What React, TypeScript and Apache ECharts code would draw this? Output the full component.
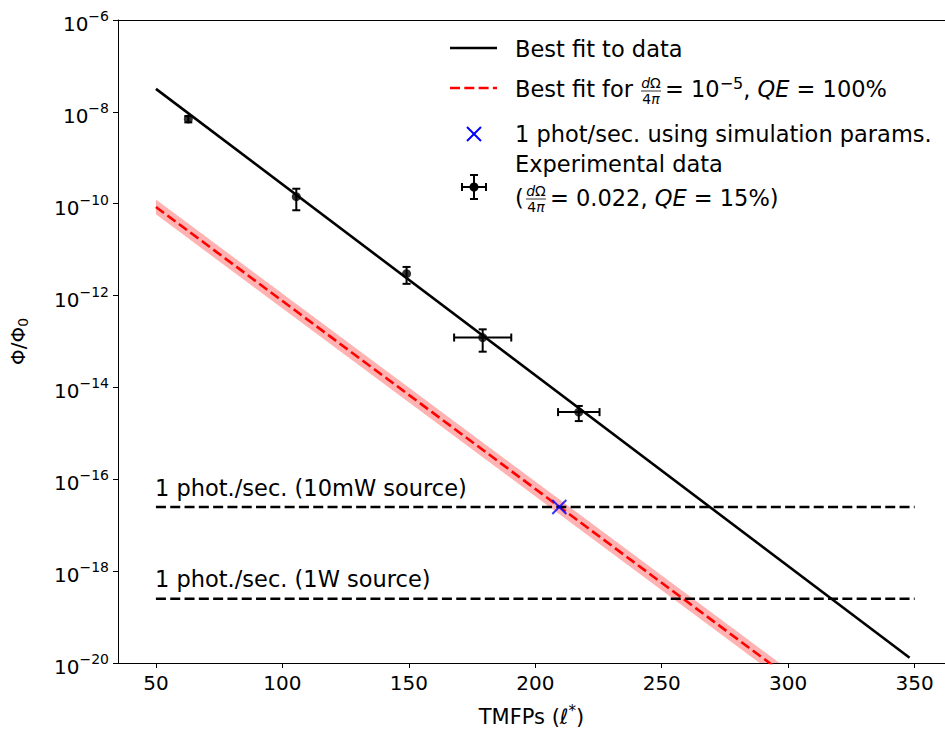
import React, { useEffect, useRef } from "react";
import * as echarts from "echarts";

// ---- data ----
const xTicks = [50, 100, 150, 200, 250, 300, 350];
const expX = [62.8, 105.5, 149.1, 179.2, 217.2];
const expY = [7.0e-9, 1.42e-10, 3.0e-12, 1.22e-13, 2.9e-15];
const expXErr = [0, 0, 0, 11.3, 8.2];
const expYErr = [1.1e-9, 7e-11, 1.2e-12, 6.2e-14, 1.05e-15];

const fitX = [50, 348];
const fitY = [3.16e-8, 1.3e-20];

const simX = [50, 300];
const simY = [8.5e-11, 5.0e-21];
const simBandFactor = 1.45;

const crossX = [209.5];
const crossY = [2.5e-17];

const level10mW = 2.5e-17;
const level1W = 2.5e-19;
const levelX = [50, 350];

const FONT = '"DejaVu Sans", sans-serif';
const L = (v: number) => Math.log10(v);
const FS = 22.5;

function txt(x: number, y: number, text: string, size: number, extra: any = {}) {
  return {
    type: "text",
    x,
    y,
    z: 10,
    style: {
      text,
      fontSize: size,
      fontFamily: FONT,
      fill: "#000",
      textAlign: "left",
      textVerticalAlign: "middle",
      align: "left",
      verticalAlign: "middle",
      ...extra,
    },
  };
}

const richBase = (size: number) => ({
  n: { fontSize: size, fontFamily: FONT, color: "#000" },
  i: { fontSize: size, fontFamily: FONT, fontStyle: "italic", color: "#000" },
  s: { fontSize: Math.round(size * 0.7), fontFamily: FONT, color: "#000", padding: [0, 0, Math.round(size * 0.55), 0] },
});

function fraction(cx: number, cy: number, num: string, den: string) {
  const r = {
    n: { fontSize: 14, fontFamily: FONT, color: "#000", lineHeight: 14 },
    i: { fontSize: 14, fontFamily: FONT, fontStyle: "italic", color: "#000", lineHeight: 14 },
  };
  return [
    { type: "text", x: cx, y: cy - 6, z: 10, style: { text: num, rich: r, textAlign: "center", textVerticalAlign: "middle", align: "center", verticalAlign: "middle" } },
    { type: "line", z: 10, shape: { x1: cx - 10, y1: cy + 2, x2: cx + 10, y2: cy + 2 }, style: { stroke: "#000", lineWidth: 0.8 } },
    { type: "text", x: cx, y: cy + 10, z: 10, style: { text: den, rich: r, textAlign: "center", textVerticalAlign: "middle", align: "center", verticalAlign: "middle" } },
  ];
}

export default function App() {
  const ref = useRef<HTMLDivElement>(null);
  useEffect(() => {
    if (!ref.current) return;
    const chart = echarts.init(ref.current, null, { renderer: "svg" });

    const errData = expX.map((x, k) => [
      x,
      L(expY[k]),
      x - expXErr[k],
      x + expXErr[k],
      L(expY[k] - expYErr[k]),
      L(expY[k] + expYErr[k]),
    ]);

    const bandRows = simX.map((x, k) => [x, L(simY[k] / simBandFactor), L(simY[k] * simBandFactor)]);

    const cap = 4;
    const axisCommon = { type: "value", min: 35, max: 362 };
    const option: any = {
      animation: false,
      backgroundColor: "#fff",
      grid: { left: 117, right: 0, top: 20, bottom: 68 },
      xAxis: [
        {
          ...axisCommon,
          name: "{n|TMFPs (}{i|ℓ}{s|*}{n|)}",
          nameLocation: "middle",
          nameGap: 40,
          nameTextStyle: { rich: richBase(21), verticalAlign: "top" },
          axisLine: { show: true, onZero: false, lineStyle: { color: "#000", width: 1 } },
          axisTick: { show: true, length: 5, lineStyle: { color: "#000" }, customValues: xTicks },
          axisLabel: { fontSize: 20, fontFamily: FONT, color: "#000", margin: 10, customValues: xTicks },
          splitLine: { show: false },
        },
        {
          ...axisCommon,
          position: "top",
          axisLine: { show: true, onZero: false, lineStyle: { color: "#000", width: 1 } },
          axisTick: { show: false },
          axisLabel: { show: false },
          splitLine: { show: false },
        },
      ],
      yAxis: {
        type: "value",
        min: -20,
        max: -6,
        interval: 2,
        name: "{n|Φ/Φ}{b|0}",
        nameLocation: "middle",
        nameGap: 88,
        nameRotate: 90,
        nameTextStyle: {
          rich: {
            n: { fontSize: 20, fontFamily: FONT, color: "#000" },
            b: { fontSize: 14, fontFamily: FONT, color: "#000", padding: [10, 0, 0, 0] },
          },
        },
        axisLine: { show: true, onZero: false, lineStyle: { color: "#000", width: 1 } },
        axisTick: { show: true, length: 5, lineStyle: { color: "#000" } },
        axisLabel: {
          margin: 9,
          formatter: (v: number) => `{b|10}{s|−${Math.round(-v)}}`,
          rich: {
            b: { fontSize: 20, fontFamily: FONT, color: "#000", padding: [8, 0, 0, 0] },
            s: { fontSize: 14, fontFamily: FONT, color: "#000", padding: [0, 0, 8, 0] },
          },
        },
        splitLine: { show: false },
      },
      series: [
        {
          type: "custom",
          name: "band",
          data: bandRows,
          encode: { x: 0, y: [1, 2] },
          clip: true,
          z: 1,
          renderItem: (params: any, api: any) => {
            const i = params.dataIndex;
            if (i >= bandRows.length - 1) return null;
            const a = bandRows[i], b = bandRows[i + 1];
            const pts = [
              api.coord([a[0], a[1]]),
              api.coord([b[0], b[1]]),
              api.coord([b[0], b[2]]),
              api.coord([a[0], a[2]]),
            ];
            return { type: "polygon", shape: { points: pts }, style: { fill: "rgba(255,0,0,0.3)" } };
          },
        },
        {
          type: "line",
          name: "Best fit for dΩ/4π = 1e-5, QE = 100%",
          data: simX.map((x, k) => [x, L(simY[k])]),
          symbol: "none",
          lineStyle: { color: "#ff0000", width: 2.6, type: [10, 4.3] },
          z: 2,
        },
        {
          type: "line",
          name: "1 phot./sec. (10mW source)",
          data: levelX.map((x) => [x, L(level10mW)]),
          symbol: "none",
          lineStyle: { color: "#000", width: 2.6, type: [10, 4.3] },
          z: 2,
        },
        {
          type: "line",
          name: "1 phot./sec. (1W source)",
          data: levelX.map((x) => [x, L(level1W)]),
          symbol: "none",
          lineStyle: { color: "#000", width: 2.6, type: [10, 4.3] },
          z: 2,
        },
        {
          type: "line",
          name: "Best fit to data",
          data: fitX.map((x, k) => [x, L(fitY[k])]),
          symbol: "none",
          lineStyle: { color: "#000", width: 2.6 },
          z: 3,
        },
        {
          type: "custom",
          name: "errorbars",
          data: errData,
          encode: { x: [0, 2, 3], y: [1, 4, 5] },
          z: 4,
          renderItem: (params: any, api: any) => {
            const x = api.value(0), y = api.value(1);
            const xl = api.value(2), xh = api.value(3), yl = api.value(4), yh = api.value(5);
            const pL = api.coord([xl, y]), pH = api.coord([xh, y]);
            const pB = api.coord([x, yl]), pT = api.coord([x, yh]);
            const st = { stroke: "#000", lineWidth: 2 };
            const children: any[] = [];
            if (pH[0] - pL[0] > 1.5) {
              children.push({ type: "line", shape: { x1: pL[0], y1: pL[1], x2: pH[0], y2: pH[1] }, style: st });
              children.push({ type: "line", shape: { x1: pL[0], y1: pL[1] - cap, x2: pL[0], y2: pL[1] + cap }, style: st });
              children.push({ type: "line", shape: { x1: pH[0], y1: pH[1] - cap, x2: pH[0], y2: pH[1] + cap }, style: st });
            }
            children.push({ type: "line", shape: { x1: pB[0], y1: pB[1], x2: pT[0], y2: pT[1] }, style: st });
            children.push({ type: "line", shape: { x1: pB[0] - cap, y1: pB[1], x2: pB[0] + cap, y2: pB[1] }, style: st });
            children.push({ type: "line", shape: { x1: pT[0] - cap, y1: pT[1], x2: pT[0] + cap, y2: pT[1] }, style: st });
            return { type: "group", children };
          },
        },
        {
          type: "scatter",
          name: "Experimental data",
          data: expX.map((x, k) => [x, L(expY[k])]),
          symbol: "circle",
          symbolSize: 9,
          itemStyle: { color: "#000" },
          z: 5,
        },
        {
          type: "scatter",
          name: "1 phot/sec. using simulation params.",
          data: crossX.map((x, k) => [x, L(crossY[k])]),
          symbol: "path://M0,0L10,10M10,0L0,10",
          symbolSize: 14,
          itemStyle: { color: "none", borderColor: "#0000ff", borderWidth: 2 },
          z: 6,
        },
      ],
      graphic: [
        // annotations
        txt(155, 488, "1 phot./sec. (10mW source)", FS),
        txt(155, 579, "1 phot./sec. (1W source)", FS),
        // legend row 1
        { type: "line", z: 10, shape: { x1: 450, y1: 48, x2: 497, y2: 48 }, style: { stroke: "#000", lineWidth: 2.6 } },
        txt(515, 49, "Best fit to data", FS),
        // legend row 2
        { type: "line", z: 10, shape: { x1: 450, y1: 88, x2: 497, y2: 88 }, style: { stroke: "#ff0000", lineWidth: 2.6, lineDash: [10, 4.3] } },
        txt(515, 89, "Best fit for", FS),
        ...fraction(651, 89, "{i|d}{n|Ω}", "{n|4}{i|π}"),
        txt(665, 89, "{n|= 10}{s|−5}{n|, }{i|QE}{n| = 100%}", FS, { rich: richBase(FS) }),
        // legend row 3
        { type: "line", z: 10, shape: { x1: 467, y1: 127, x2: 481, y2: 141 }, style: { stroke: "#0000ff", lineWidth: 2 } },
        { type: "line", z: 10, shape: { x1: 481, y1: 127, x2: 467, y2: 141 }, style: { stroke: "#0000ff", lineWidth: 2 } },
        txt(515, 134, "1 phot/sec. using simulation params.", FS),
        // legend row 4/5
        { type: "line", z: 10, shape: { x1: 462, y1: 187, x2: 486, y2: 187 }, style: { stroke: "#000", lineWidth: 2 } },
        { type: "line", z: 10, shape: { x1: 462, y1: 183, x2: 462, y2: 191 }, style: { stroke: "#000", lineWidth: 2 } },
        { type: "line", z: 10, shape: { x1: 486, y1: 183, x2: 486, y2: 191 }, style: { stroke: "#000", lineWidth: 2 } },
        { type: "line", z: 10, shape: { x1: 474, y1: 175, x2: 474, y2: 199 }, style: { stroke: "#000", lineWidth: 2 } },
        { type: "line", z: 10, shape: { x1: 470, y1: 175, x2: 478, y2: 175 }, style: { stroke: "#000", lineWidth: 2 } },
        { type: "line", z: 10, shape: { x1: 470, y1: 199, x2: 478, y2: 199 }, style: { stroke: "#000", lineWidth: 2 } },
        { type: "circle", z: 10, shape: { cx: 474, cy: 187, r: 4.5 }, style: { fill: "#000" } },
        txt(515, 164, "Experimental data", FS),
        txt(515, 198, "(", FS),
        ...fraction(536, 197, "{i|d}{n|Ω}", "{n|4}{i|π}"),
        txt(550, 198, "{n|= 0.022, }{i|QE}{n| = 15%)}", FS, { rich: richBase(FS) }),
      ],
    };
    chart.setOption(option);
    return () => chart.dispose();
  }, []);
  return <div ref={ref} style={{ position: "fixed", left: 0, top: 0, width: 945, height: 732 }} />;
}
